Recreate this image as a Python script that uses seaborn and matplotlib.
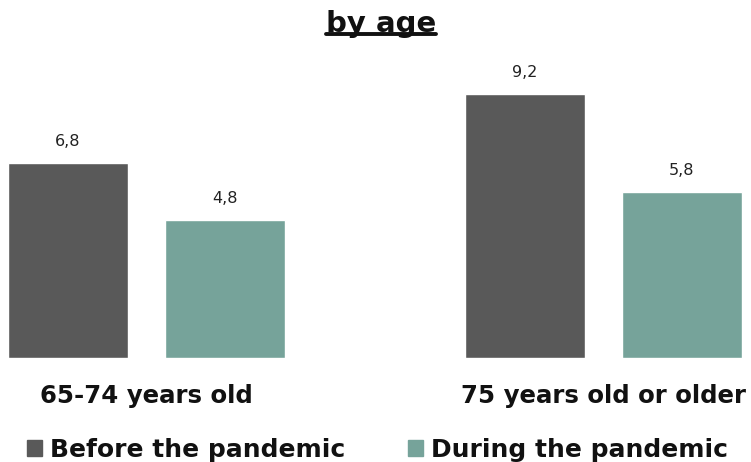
import matplotlib.pyplot as plt
import matplotlib.lines as mlines
import matplotlib.patches as mpatches
import pandas as pd
import seaborn as sns

AGE_GROUPS = ["65-74 years old", "75 years old or older"]
PERIODS = ["Before the pandemic", "During the pandemic"]
BEFORE = [6.8, 9.2]
DURING = [4.8, 5.8]
COLORS = ["#595959", "#76A39A"]
TITLE = "by age"


def main():
    df = pd.DataFrame({
        "age": AGE_GROUPS * 2,
        "period": [PERIODS[0]] * 2 + [PERIODS[1]] * 2,
        "value": BEFORE + DURING,
    })

    sns.set_theme(style="white")
    plt.rcParams["font.family"] = ["DejaVu Sans"]

    fig = plt.figure(figsize=(7.51, 4.62), dpi=100)
    ax = fig.add_axes([0, 0.2251, 1, 0.6667])

    sns.barplot(data=df, x="age", y="value", hue="period", order=AGE_GROUPS,
                hue_order=PERIODS, palette=COLORS, width=0.687, gap=0.236,
                saturation=1, ax=ax, legend=False)

    for container in ax.containers:
        ax.bar_label(container, labels=[f"{v:.1f}".replace(".", ",") for v in container.datavalues],
                     padding=10, fontsize=11.5, color="#222222")

    ax.set_xlim(-0.3206, 1.3228)
    ax.set_ylim(0, 10.73)
    ax.set_xlabel("")
    ax.set_ylabel("")
    ax.set_yticks([])
    ax.tick_params(axis="x", length=0, pad=19, labelsize=17.6, labelcolor="#111111")
    for lbl in ax.get_xticklabels():
        lbl.set_fontweight("bold")
    sns.despine(ax=ax, left=True, bottom=True)

    handles = [mpatches.Patch(color=c, label=p) for c, p in zip(COLORS, PERIODS)]
    leg = fig.legend(handles=handles, loc="center left", bbox_to_anchor=(0.036, 0.026), ncol=2,
                     frameon=False, borderpad=0, borderaxespad=0,
                     handlelength=0.6, handleheight=0.6, handletextpad=0.33,
                     columnspacing=2.5, prop={"weight": "bold", "size": 18})
    for t in leg.get_texts():
        t.set_color("#111111")

    title = fig.text(0.507, 0.949, TITLE, ha="center", va="center", fontsize=21,
                     fontweight="bold", color="#111111")
    fig.canvas.draw()
    bb = title.get_window_extent().transformed(fig.transFigure.inverted())
    fig.add_artist(mlines.Line2D([bb.x0, bb.x1], [bb.y0 + 0.008, bb.y0 + 0.008],
                                 transform=fig.transFigure, color="#111111", linewidth=2.8))

    fig.savefig("out.png", dpi=100)


if __name__ == "__main__":
    main()
